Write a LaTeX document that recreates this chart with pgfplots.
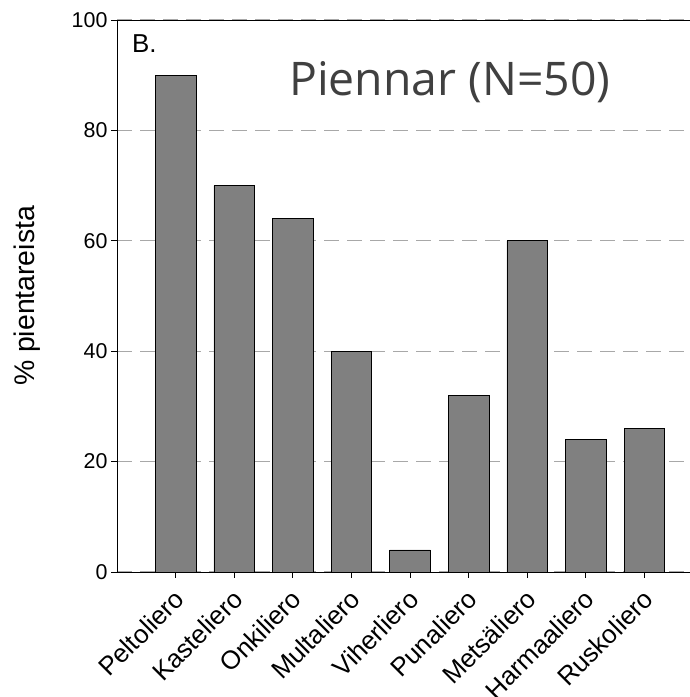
\documentclass[border=0pt]{standalone}
\usepackage{pgfplots}
\pgfplotsset{compat=1.18}
\usepackage{fontspec}
\setmainfont{Liberation Sans}
\newfontfamily\titlefont{Open Sans}
\definecolor{barfill}{RGB}{128,128,128}
\definecolor{gridc}{RGB}{168,168,168}
\definecolor{titlec}{RGB}{64,64,64}
\begin{document}
\begin{tikzpicture}[x=1bp,y=1bp]
\begin{axis}[
  at={(117bp,125bp)}, anchor=south west,
  scale only axis, width=573bp, height=552bp,
  xmin=0, xmax=9.778, ymin=0, ymax=100,
  axis x line=box, axis y line=left,
  axis line style={-, black, line width=0.9bp},
  xtick={1,2,3,4,5,6,7,8,9},
  xticklabels={Peltoliero,Kasteliero,Onkiliero,Multaliero,Viherliero,Punaliero,Metsäliero,Harmaaliero,Ruskoliero},
  ytick={0,20,40,60,80,100},
  xtick pos=bottom, ytick pos=left,
  tick align=outside, major tick length=6bp,
  tick style={black, line width=0.9bp},
  ymajorgrids,
  grid style={gridc, line width=1.1bp, dash pattern=on 15bp off 8bp},
  /pgf/number format/assume math mode=true,
  yticklabel style={font=\fontsize{21.5}{24}\selectfont},
  xticklabel style={font=\fontsize{26}{29}\selectfont, xshift=-3bp, yshift=-7bp, rotate=45, anchor=north east, inner sep=2bp},
  ylabel={\% pientareista},
  ylabel style={font=\fontsize{28.5}{31}\selectfont, at={(axis description cs:-0.157,0.5)}, anchor=center},
  ybar, bar width=0.693, bar shift=0pt,
]
\addplot[fill=barfill, draw=black, line width=0.8bp] coordinates {
  (1,90) (2,70) (3,64) (4,40) (5,4) (6,32) (7,60) (8,24) (9,26)
};
\node[anchor=base west, inner sep=0pt, font=\fontsize{26}{30}\selectfont] at (axis cs:0.256,94.2) {B.};
\node[anchor=base, font=\titlefont\fontsize{46.5}{52}\selectfont, text=titlec] at (axis cs:5.68,86.4) {Piennar (N=50)};
\end{axis}
\pgfresetboundingbox
\useasboundingbox (0,0) rectangle (690,697);
\end{tikzpicture}
\end{document}
